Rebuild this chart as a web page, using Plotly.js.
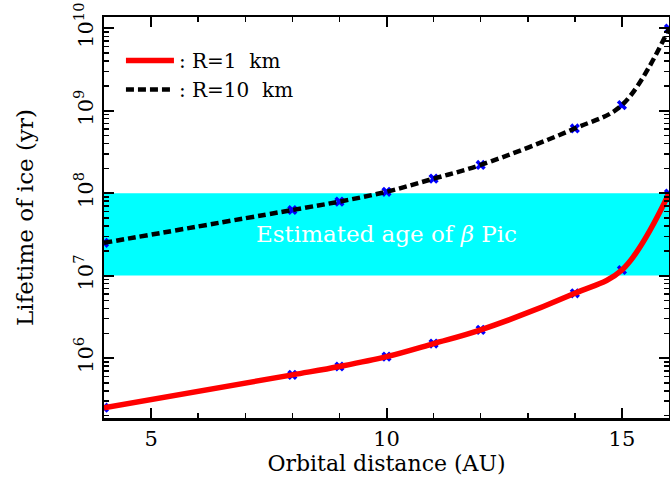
<!DOCTYPE html>
<html>
<head>
<meta charset="utf-8">
<script src="https://cdn.plot.ly/plotly-3.0.1.min.js"></script>
<style>html,body{margin:0;padding:0;background:#fff;}#chart{width:670px;height:479px;}</style>
</head>
<body>
<div id="chart"></div>
<script>
// Data
const distanceAU = [4, 8, 9, 10, 11, 12, 14, 15, 16];
const lifetimeR1km = [2.5e5, 6.25e5, 7.9e5, 1.04e6, 1.5e6, 2.2e6, 6.1e6, 1.17e7, 9.9e7];
const lifetimeR10km = [2.5e7, 6.25e7, 7.9e7, 1.04e8, 1.5e8, 2.2e8, 6.1e8, 1.17e9, 9.9e9];
const seriesNames = [': R=1  km', ': R=10  km'];
const ageBandLow = 1e7;
const ageBandHigh = 1e8;
const bandLabel = 'Estimated age of <i>\u03b2</i> Pic';
const xTickVals = [5, 10, 15];
const xTickText = ['5', '10', '15'];
const yTickVals = [1e6, 1e7, 1e8, 1e9, 1e10];
const yTickText = ['10<sup>6</sup>', '10<sup>7</sup>', '10<sup>8</sup>', '10<sup>9</sup>', '10<sup>10</sup>'];
const xTitle = 'Orbital distance (AU)';
const yTitle = 'Lifetime of ice (yr)';

const xRange = [4, 16];
const yRangeLog = [5.273, 10.137];

const yMinor = [];
for (let e = 5; e <= 10; e++) for (let m = 2; m <= 9; m++) yMinor.push(m * Math.pow(10, e));
const xMinor = [];
for (let v = xRange[0]; v <= xRange[1]; v++) if (xTickVals.indexOf(v) < 0) xMinor.push(v);

const font = 'DejaVu Serif, Liberation Serif, serif';

const traces = [
  {x: distanceAU, y: lifetimeR1km, mode: 'markers', showlegend: false, hoverinfo: 'skip',
   marker: {symbol: 'x', size: 9, color: '#0000ff'}},
  {x: distanceAU, y: lifetimeR10km, mode: 'markers', showlegend: false, hoverinfo: 'skip',
   marker: {symbol: 'x', size: 9, color: '#0000ff'}},
  {x: distanceAU, y: lifetimeR1km, mode: 'lines', name: seriesNames[0],
   line: {color: '#ff0000', width: 5.5, shape: 'spline', smoothing: 1}},
  {x: distanceAU, y: lifetimeR10km, mode: 'lines', name: seriesNames[1],
   line: {color: '#000000', width: 4.5, dash: '8px,4px', shape: 'spline', smoothing: 1}},
  // invisible trace that activates the minor-tick axes
  {x: [xRange[0]], y: [yTickVals[0]], xaxis: 'x2', yaxis: 'y2', mode: 'markers', showlegend: false,
   hoverinfo: 'skip', marker: {opacity: 0}}
];

const layout = {
  width: 670, height: 479,
  margin: {l: 104, r: 1, t: 17, b: 61},
  paper_bgcolor: '#ffffff', plot_bgcolor: 'rgba(0,0,0,0)',
  font: {family: font, size: 20, color: '#000'},
  showlegend: true,
  legend: {x: 0.03, y: 0.94, xanchor: 'left', yanchor: 'top', bgcolor: 'rgba(0,0,0,0)',
           font: {family: font, size: 20, color: '#000'}, itemwidth: 48, tracegroupgap: 0},
  xaxis: {
    range: xRange, showgrid: false, zeroline: false,
    showline: true, linecolor: '#000', linewidth: 2.5, mirror: 'allticks',
    ticks: 'inside', ticklen: 10, tickwidth: 2, tickcolor: '#000',
    tickmode: 'array', tickvals: xTickVals, ticktext: xTickText,
    tickfont: {family: font, size: 21},
    title: {text: xTitle, font: {family: font, size: 22}, standoff: 2}
  },
  yaxis: {
    type: 'log', range: yRangeLog, showgrid: false, zeroline: false,
    showline: true, linecolor: '#000', linewidth: 2.5, mirror: 'allticks',
    ticks: 'inside', ticklen: 10, tickwidth: 2, tickcolor: '#000',
    tickmode: 'array', tickvals: yTickVals, ticktext: yTickText, tickangle: -90,
    tickfont: {family: font, size: 21},
    title: {text: yTitle, font: {family: font, size: 23}, standoff: 30}
  },
  xaxis2: {
    overlaying: 'x', anchor: 'y2', range: xRange, showgrid: false, zeroline: false,
    showline: false, mirror: 'allticks', ticks: 'inside', ticklen: 5, tickwidth: 1.5, tickcolor: '#000',
    tickmode: 'array', tickvals: xMinor, showticklabels: false
  },
  yaxis2: {
    overlaying: 'y', anchor: 'x2', type: 'log', range: yRangeLog, showgrid: false, zeroline: false,
    showline: false, mirror: 'allticks', ticks: 'inside', ticklen: 5, tickwidth: 1.5, tickcolor: '#000',
    tickmode: 'array', tickvals: yMinor, showticklabels: false
  },
  shapes: [{type: 'rect', xref: 'paper', x0: 0, x1: 1, yref: 'y', y0: ageBandLow, y1: ageBandHigh,
            fillcolor: '#00ffff', line: {width: 0}, layer: 'below'}],
  annotations: [{xref: 'paper', x: 0.5, yref: 'y', y: (Math.log10(ageBandLow) + Math.log10(ageBandHigh)) / 2,
                 text: bandLabel, showarrow: false, font: {family: font, size: 23, color: '#ffffff'}}]
};

Plotly.newPlot('chart', traces, layout, {staticPlot: true, displayModeBar: false});
</script>
</body>
</html>
